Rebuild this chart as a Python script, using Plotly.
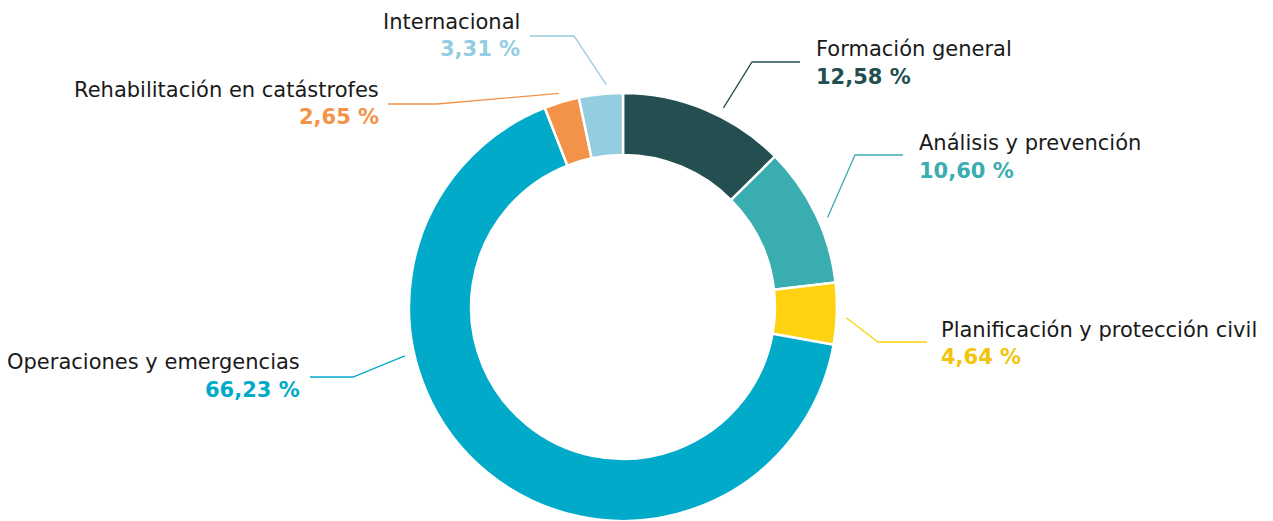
import math
import plotly.graph_objects as go

# ---------------- data ----------------
categories = ["Formación general", "Análisis y prevención", "Planificación y protección civil",
              "Operaciones y emergencias", "Rehabilitación en catástrofes", "Internacional"]
values = [12.58, 10.60, 4.64, 66.23, 2.65, 3.31]
value_labels = ["12,58 %", "10,60 %", "4,64 %", "66,23 %", "2,65 %", "3,31 %"]

# ---------------- styles ----------------
slice_colors = ["#234F50", "#3AADB0", "#FED111", "#00AAC8", "#F39349", "#93CDDF"]
pct_colors = ["#234F50", "#3AADB0", "#F2C40C", "#00AAC8", "#F39349", "#93CDDF"]
W, H = 1273, 521
CX, R = 623, 214.5          # pie centre x and outer radius (pixels)
TOP = 93                    # top pixel of pie
CY = TOP + R
HOLE = 0.71
FONT = "DejaVu Sans"

# label layout (pixels): side, text x, name y, pct y, elbow, line end, anchor position inside slice
label_layout = [
    dict(side="left",  tx=815, ny=49,  py=77,  elbow=(752, 62),  end=(800, 62),  pos=0.59),
    dict(side="left",  tx=918, ny=143, py=171, elbow=(855, 155), end=(903, 155), pos=0.55),
    dict(side="left",  tx=940, ny=330, py=357, elbow=(878, 342), end=(927, 342), pos=0.55),
    dict(side="right", tx=301, ny=362, py=390, elbow=(353, 377), end=(310, 377), pos=0.66),
    dict(side="right", tx=380, ny=90,  py=117, elbow=(437, 104), end=(388, 104), pos=0.5),
    dict(side="right", tx=521, ny=22,  py=49,  elbow=(574, 36),  end=(530, 36),  pos=0.64),
]


def px(x):
    return x / W


def py_(y):
    return 1 - y / H


fig = go.Figure(go.Pie(
    labels=categories,
    values=values,
    sort=False,
    direction="clockwise",
    rotation=0,
    hole=HOLE,
    textinfo="none",
    marker=dict(colors=slice_colors, line=dict(color="white", width=2.5)),
    domain=dict(x=[px(CX - R), px(CX + R)], y=[0, py_(TOP)]),
    showlegend=False,
))

total = sum(values)
cum = 0.0
annotations = []
shapes = []
for i, (cat, v, lab, lay) in enumerate(zip(categories, values, value_labels, label_layout)):
    start = cum / total * 360
    span = v / total * 360
    cum += v
    ang = math.radians(start + span * lay["pos"])
    ra = R + 9
    ax = CX + ra * math.sin(ang)
    ay = CY - ra * math.cos(ang)
    ex, ey = lay["elbow"]
    nx, ny = lay["end"]
    shapes.append(dict(
        type="path", xref="paper", yref="paper",
        path=f"M {px(ax)},{py_(ay)} L {px(ex)},{py_(ey)} L {px(nx)},{py_(ny)}",
        line=dict(color=slice_colors[i], width=1.3),
    ))
    anchor = "left" if lay["side"] == "left" else "right"
    annotations.append(dict(
        x=px(lay["tx"]), y=py_(lay["ny"]), xref="paper", yref="paper",
        text=cat, showarrow=False, xanchor=anchor, yanchor="middle",
        font=dict(family=FONT, size=21, color="#1a1a1a"), borderpad=0,
    ))
    annotations.append(dict(
        x=px(lay["tx"]), y=py_(lay["py"]), xref="paper", yref="paper",
        text=f"<b>{lab}</b>", showarrow=False, xanchor=anchor, yanchor="middle",
        font=dict(family=FONT, size=21, color=pct_colors[i]), borderpad=0,
    ))

fig.update_layout(
    width=W, height=H,
    margin=dict(l=0, r=0, t=0, b=0),
    paper_bgcolor="white", plot_bgcolor="white",
    annotations=annotations, shapes=shapes,
)

fig.write_html("out.html", config={"displayModeBar": False},
               post_script="document.body.style.margin='0';")
